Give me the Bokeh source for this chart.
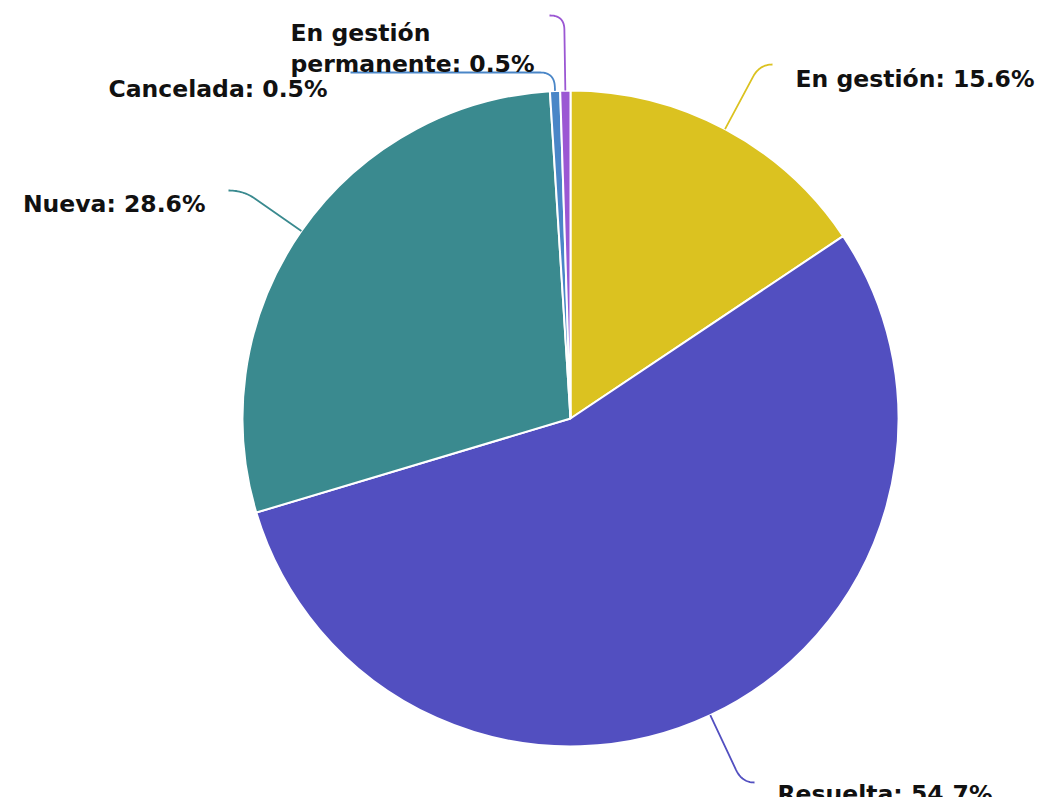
import math
from bokeh.plotting import figure
from bokeh.models import Range1d, ColumnDataSource
from bokeh.core.properties import value
from bokeh.embed import file_html
from bokeh.resources import INLINE

# ---- data ----
categories = ["En gestión", "Resuelta", "Nueva", "Cancelada", "En gestión permanente"]
percent = [15.6, 54.7, 28.6, 0.5, 0.5]
label_texts = ["En gestión: 15.6%", "Resuelta: 54.7%", "Nueva: 28.6%",
               "Cancelada: 0.5%", "En gestión\npermanente: 0.5%"]
colors = ["#DBC220", "#524FC0", "#3A8A8F", "#4A86C7", "#9B57D3"]

# ---- layout (page pixel coordinates) ----
W, H = 1045, 797
PAGE_H = 803
CX, CY, R = 570, 418, 328
conn_y = [64, 782, 190, 72, 15]
conn_end_x = [772, 754, 228, 350, 549]
label_side = [1, 1, -1, -1, -1]
label_baseline = [78, 793, 203, 88, 63]
LINE_H = 31
GAP = 23

def Y(py):
    return PAGE_H - py

p = figure(width=W, height=H, output_backend="svg", toolbar_location=None,
           x_range=Range1d(0, W), y_range=Range1d(PAGE_H - H, PAGE_H),
           min_border=0, tools="")
p.axis.visible = False
p.grid.visible = False
p.outline_line_color = None
p.background_fill_color = "white"
p.border_fill_color = "white"

total = sum(percent)
fr_start, fr_end, mids = [], [], []
acc = 0.0
for v in percent:
    fr_start.append(acc / total)
    acc += v
    fr_end.append(acc / total)
    mids.append((fr_start[-1] + fr_end[-1]) / 2)

src = ColumnDataSource(dict(
    x=[CX] * len(percent), y=[Y(CY)] * len(percent),
    start=[math.pi / 2 - f * 2 * math.pi for f in fr_start],
    end=[math.pi / 2 - f * 2 * math.pi for f in fr_end],
    color=colors))
p.wedge(x="x", y="y", radius=R, radius_units="screen", start_angle="start",
        end_angle="end", direction="clock", fill_color="color",
        line_color="white", line_width=2, source=src)

# connectors
xs, ys = [], []
for i, m in enumerate(mids):
    a = m * 2 * math.pi
    dx, dy = math.sin(a), -math.cos(a)
    sx, sy = CX + R * dx, CY + R * dy
    t = (conn_y[i] - sy) / dy
    bx, by = sx + t * dx, conn_y[i]
    ex, ey = conn_end_x[i], conn_y[i]
    l1 = math.hypot(bx - sx, by - sy)
    l2 = math.hypot(ex - bx, ey - by)
    rc = 14
    r1, r2 = min(rc, l1), min(rc, l2)
    ax_, ay_ = bx - (bx - sx) / l1 * r1, by - (by - sy) / l1 * r1
    cx_, cy_ = bx + (ex - bx) / l2 * r2, by + (ey - by) / l2 * r2
    px, py = [sx, ax_], [sy, ay_]
    for k in range(1, 16):
        u = k / 16
        px.append((1 - u) ** 2 * ax_ + 2 * (1 - u) * u * bx + u ** 2 * cx_)
        py.append((1 - u) ** 2 * ay_ + 2 * (1 - u) * u * by + u ** 2 * cy_)
    px += [cx_, ex]
    py += [cy_, ey]
    xs.append(px)
    ys.append([Y(v) for v in py])
p.multi_line(xs=xs, ys=ys, line_color=colors, line_width=1.8)

# labels
tx, ty, tt, ta = [], [], [], []
for i, txt in enumerate(label_texts):
    lines = txt.split("\n")
    n = len(lines)
    for j, ln in enumerate(lines):
        base = label_baseline[i] - (n - 1 - j) * LINE_H
        if label_side[i] > 0:
            tx.append(conn_end_x[i] + GAP)
            ta.append("left")
        elif n > 1:
            tx.append(290)
            ta.append("left")
        else:
            tx.append(conn_end_x[i] - GAP)
            ta.append("right")
        ty.append(Y(base))
        tt.append(ln)
p.text(x=tx, y=ty, text=tt, text_align=ta, text_baseline="alphabetic",
       text_font=value("DejaVu Sans"), text_font_style="bold",
       text_font_size="23.5px", text_color="#111111")

open("out.html", "w").write(file_html(p, INLINE))
